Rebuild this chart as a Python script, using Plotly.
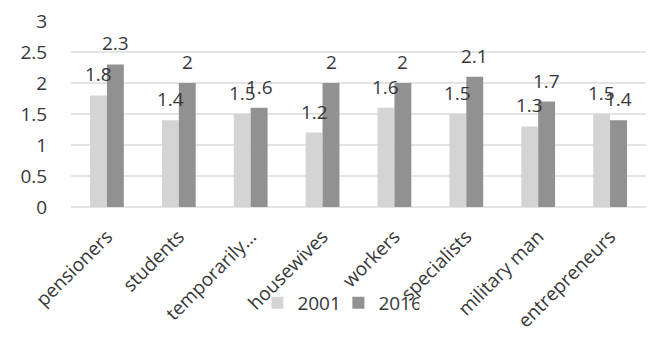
import plotly.graph_objects as go

categories = ["pensioners", "students", "temporarily…", "housewives", "workers",
              "specialists", "military man", "entrepreneurs"]
series_names = ["2001", "2016"]
values_2001 = [1.8, 1.4, 1.5, 1.2, 1.6, 1.5, 1.3, 1.5]
values_2016 = [2.3, 2.0, 1.6, 2.0, 2.0, 2.1, 1.7, 1.4]
y_ticks = [0, 0.5, 1, 1.5, 2, 2.5, 3]
y_tick_labels = ["0", "0.5", "1", "1.5", "2", "2.5", "3"]

colors = ["#d4d4d4", "#919191"]
font_family = "Open Sans, Lato, sans-serif"
text_color = "#383838"

fig = go.Figure()
for name, vals, col in zip(series_names, [values_2001, values_2016], colors):
    fig.add_trace(go.Bar(
        x=categories, y=vals, name=name,
        marker=dict(color=col, line=dict(width=0)),
    ))

def fmt(v):
    return ("%g" % v)

# data labels
for vals, shift in [(values_2001, -8.5), (values_2016, 8.5)]:
    for c, v in zip(categories, vals):
        fig.add_annotation(
            x=c, y=v, xref="x", yref="y", text=fmt(v), showarrow=False,
            xshift=shift, yshift=6, yanchor="bottom",
            font=dict(size=19, color=text_color, family=font_family),
        )

fig.update_layout(
    width=650, height=339,
    margin=dict(l=71, r=4, t=21, b=132, autoexpand=False),
    plot_bgcolor="white", paper_bgcolor="white",
    barmode="group", bargap=0.53, bargroupgap=0,
    font=dict(family=font_family, size=17, color=text_color),
    showlegend=True,
    legend=dict(orientation="h", x=0.465, xanchor="center", y=-0.515, yanchor="middle",
                font=dict(size=19, color=text_color), bgcolor="rgba(0,0,0,0)",
                entrywidth=36, entrywidthmode="pixels", tracegroupgap=0),
)
fig.update_yaxes(
    range=[0, 3], tickvals=y_ticks, ticktext=y_tick_labels,
    showgrid=True, gridcolor="#e4e4e4", gridwidth=1.5,
    zeroline=True, zerolinecolor="#e4e4e4", zerolinewidth=1.5,
    showline=False, ticks="outside", ticklen=19, tickcolor="rgba(0,0,0,0)",
    automargin=False,
    tickfont=dict(size=19, color=text_color),
)
fig.update_xaxes(
    tickangle=-45, showgrid=False, showline=False,
    ticks="outside", ticklen=10, tickcolor="rgba(0,0,0,0)", automargin=False,
    tickfont=dict(size=19, color=text_color),
)

fig.write_html("out.html", post_script="document.body.style.margin='0';",
               config={"displayModeBar": False})
